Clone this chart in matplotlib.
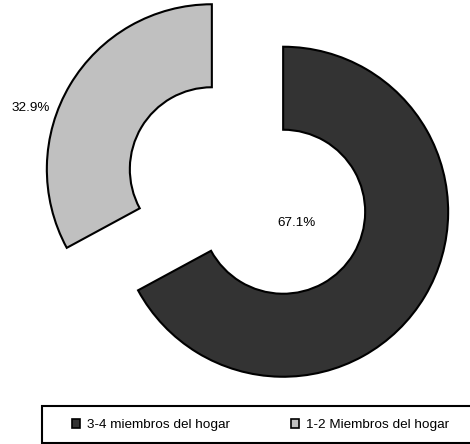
import matplotlib.pyplot as plt
from matplotlib.patches import Patch, Rectangle

# Datos
categorias = ["3-4 miembros del hogar", "1-2 Miembros del hogar"]
porcentajes = [67.1, 32.9]
colores = ["#333333", "#c0c0c0"]
etiquetas = ["67.1%", "32.9%"]

plt.rcParams['font.family'] = ['Liberation Sans', 'DejaVu Sans']

fig = plt.figure(figsize=(4.7, 4.44), dpi=100)
ax = fig.add_axes([0, 0, 1, 1])

# Anillo con las dos porciones separadas (explode en unidades de datos)
ax.pie(porcentajes, colors=colores, startangle=90, counterclock=False,
       explode=[41.5, 41.5], radius=165, center=(247.5, 253.5),
       wedgeprops=dict(width=83, edgecolor='black', linewidth=1.5))

ax.set_xlim(0, 470)
ax.set_ylim(0, 444)
ax.set_aspect('equal')
ax.axis('off')

# Etiquetas de porcentaje
ax.text(297, 444 - 223, etiquetas[0], fontsize=9.7, ha='center', va='center')
ax.text(31, 444 - 108, etiquetas[1], fontsize=9.7, ha='center', va='center')

# Marco de la leyenda
fig.patches.append(Rectangle((42 / 470, 1 - 443 / 444), 440 / 470, 37 / 444,
                             transform=fig.transFigure, facecolor='white',
                             edgecolor='black', linewidth=1.5))

# Leyenda
handles = [Patch(facecolor=c, edgecolor='black', linewidth=1.2) for c in colores]
fig.legend(handles, categorias, ncol=2, fontsize=9.7, frameon=False,
           loc='center left', bbox_to_anchor=(72 / 470, 1 - 425 / 444),
           borderpad=0, handlelength=0.62, handleheight=0.62,
           handletextpad=0.5, columnspacing=4.5, borderaxespad=0)

fig.savefig("out.png", dpi=100)
